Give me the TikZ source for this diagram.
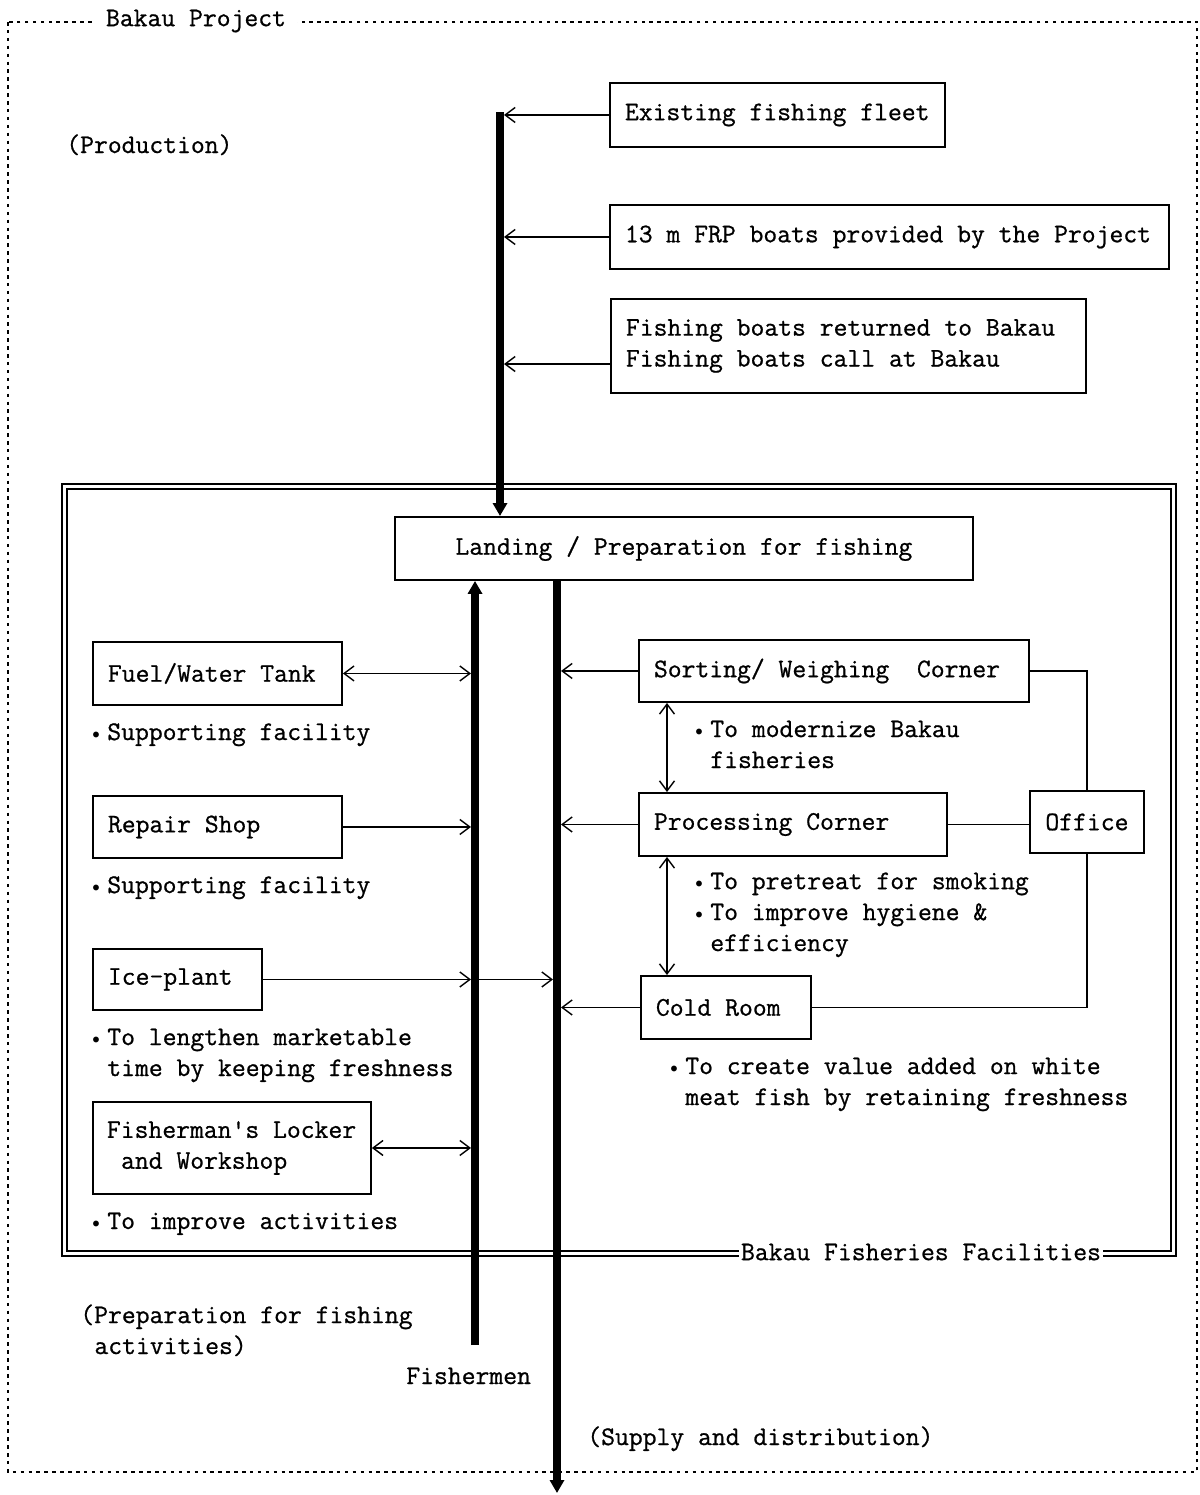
\documentclass[tikz,border=0pt]{standalone}
\usepackage{fontspec}
\setmonofont{lmmono12-regular.otf}[FakeBold=0.8, WordSpace={1,0,0}]
\usetikzlibrary{arrows.meta,calc}
\newcommand\bul{\llap{\raisebox{0.15ex}{\fontsize{8}{8}\selectfont$\bullet$}\hspace{0.15cm}}}
\newcommand\fixsp{\spaceskip=0pt\xspaceskip=0pt\relax}
\tikzset{
  box/.style={draw, line width=1.1pt, anchor=north west, align=left, inner xsep=0.3cm, inner ysep=0pt},
  lbl/.style={anchor=base west, inner sep=0pt, align=left},
  conn/.style={line width=0.9pt},
  thinarr/.style={line width=0.8pt, -{Straight Barb[length=0.2cm,width=0.3cm]}, shorten >=0.08cm},
  dblarr/.style={line width=0.8pt, {Straight Barb[length=0.2cm,width=0.3cm]}-{Straight Barb[length=0.2cm,width=0.3cm]}},
  trunk/.style={line width=0.16cm},
  ttip/.style={-{Triangle[length=0.26cm,width=0.28cm]}}
}
\begin{document}
\begin{tikzpicture}[x=0.02cm,y=-0.02cm,font=\ttfamily\fontsize{15.3}{17.6}\selectfont]
\useasboundingbox (0,0) rectangle (1200,1495);
% outer dotted frame
\draw[dash pattern=on 2pt off 2.5pt, line width=0.7pt] (8,22) rectangle (1197,1472);
\node[fill=white, inner xsep=0.22cm, inner ysep=2pt] (bp) at (196,21) {Bakau Project};
% double frame
\draw[line width=0.6pt] (62,484) rectangle (1176,1256);
\draw[line width=0.6pt] (67,489) rectangle (1171,1251);
\node[fill=white, inner xsep=1pt, inner ysep=3pt] (bff) at (921,1252) {Bakau Fisheries Facilities};

% production boxes
\node[box, text width=6.10cm, minimum height=1.28cm] (fleet) at (609,82) {\fixsp\mbox{Existing fishing fleet}};
\node[box, text width=10.58cm, minimum height=1.28cm] (frp) at (609,204) {\fixsp\mbox{13 m FRP boats provided by the Project}};
\node[box, text width=8.90cm, minimum height=1.88cm] (returned) at (610,298) {\fixsp\mbox{Fishing boats returned to Bakau}\\\mbox{Fishing boats call at Bakau}};
\node[box, align=center, text width=10.96cm, minimum height=1.26cm] (landing) at (394,516) {\fixsp\mbox{Landing / Preparation for fishing}};

% left boxes
\node[box, text width=4.38cm, minimum height=1.26cm] (fuel) at (92,641) {\fixsp\mbox{Fuel/Water Tank}};
\node[box, text width=4.38cm, minimum height=1.24cm] (repair) at (92,795) {\fixsp\mbox{Repair Shop}};
\node[box, text width=2.78cm, minimum height=1.22cm] (ice) at (92,948) {\fixsp\mbox{Ice-plant}};
\node[box, inner xsep=0.28cm, text width=5.00cm, minimum height=1.84cm] (locker) at (92,1101) {\fixsp\mbox{Fisherman's Locker}\\\mbox{\hspace*{0.525em}and Workshop}};

% right boxes
\node[box, text width=7.20cm, minimum height=1.24cm] (sorting) at (638,639) {\fixsp\mbox{Sorting/ Weighing\ \ Corner}};
\node[box, text width=5.56cm, minimum height=1.26cm] (processing) at (638,792) {\fixsp\mbox{Processing Corner}};
\node[box, align=center, text width=1.68cm, minimum height=1.24cm] (office) at (1029,790) {\fixsp\mbox{Office}};
\node[box, text width=2.80cm, minimum height=1.26cm] (cold) at (640,975) {\fixsp\mbox{Cold Room}};

% labels (base = baseline of last line)
\node[lbl] (prod) at (66,153) {(Production)};
\node[lbl] (l1) at (107,740) {\bul Supporting facility};
\node[lbl] (l2) at (107,893) {\bul Supporting facility};
\node[lbl] (l3) at (107,1076) {\bul To lengthen marketable\\time by keeping freshness};
\node[lbl] (l4) at (107,1229) {\bul To improve activities};
\node[lbl] (r1) at (710,768) {\bul To modernize Bakau\\fisheries};
\node[lbl] (r2) at (710,951) {\bul To pretreat for smoking\\\bul To improve hygiene \&\\efficiency};
\node[lbl] (r3) at (685,1105) {\bul To create value added on white\\meat fish by retaining freshness};
\node[lbl] (prep) at (80,1354) {(Preparation for fishing\\\hspace*{0.525em}activities)};
\node[lbl] (fishermen) at (406,1384) {Fishermen};
\node[lbl] (supply) at (587,1445) {(Supply and distribution)};

% trunk coordinates
\coordinate (tp) at (500,112);
\coordinate (fm) at (475,1345);
\coordinate (sd) at (557,1493);
\coordinate (va) at (667,0);

% thick lines
\draw[trunk, ttip] (tp) -- (tp |- landing.north);
\draw[trunk, ttip] (fm) -- (fm |- landing.south);
\draw[trunk, ttip] (sd |- landing.south) -- (sd);

% production arrows
\draw[thinarr] (fleet.west) -- (fleet.west -| tp);
\draw[thinarr] (frp.west) -- (frp.west -| tp);
\draw[thinarr] (returned.west |- 0,364) -- (tp |- 0,364);

% left arrows
\draw[dblarr, shorten >=0.08cm] (fuel.east) -- (fuel.east -| fm);
\draw[thinarr] (repair.east) -- (repair.east -| fm);
\draw[thinarr] (ice.east) -- (ice.east -| fm);
\draw[thinarr] (ice.east -| fm) -- (ice.east -| sd);
\draw[dblarr, shorten >=0.08cm] (locker.east) -- (locker.east -| fm);

% right arrows
\draw[thinarr] (sorting.west) -- (sorting.west -| sd);
\draw[thinarr] (processing.west) -- (processing.west -| sd);
\draw[thinarr] (cold.west) -- (cold.west -| sd);
\draw[dblarr] (sorting.south -| va) -- (processing.north -| va);
\draw[dblarr] (processing.south -| va) -- (cold.north -| va);

% office connections
\draw[conn] (sorting.east) -| (office.north);
\draw[conn] (processing.east) -- (processing.east -| office.west);
\draw[conn] (office.south) |- (cold.east);
\end{tikzpicture}
\end{document}
